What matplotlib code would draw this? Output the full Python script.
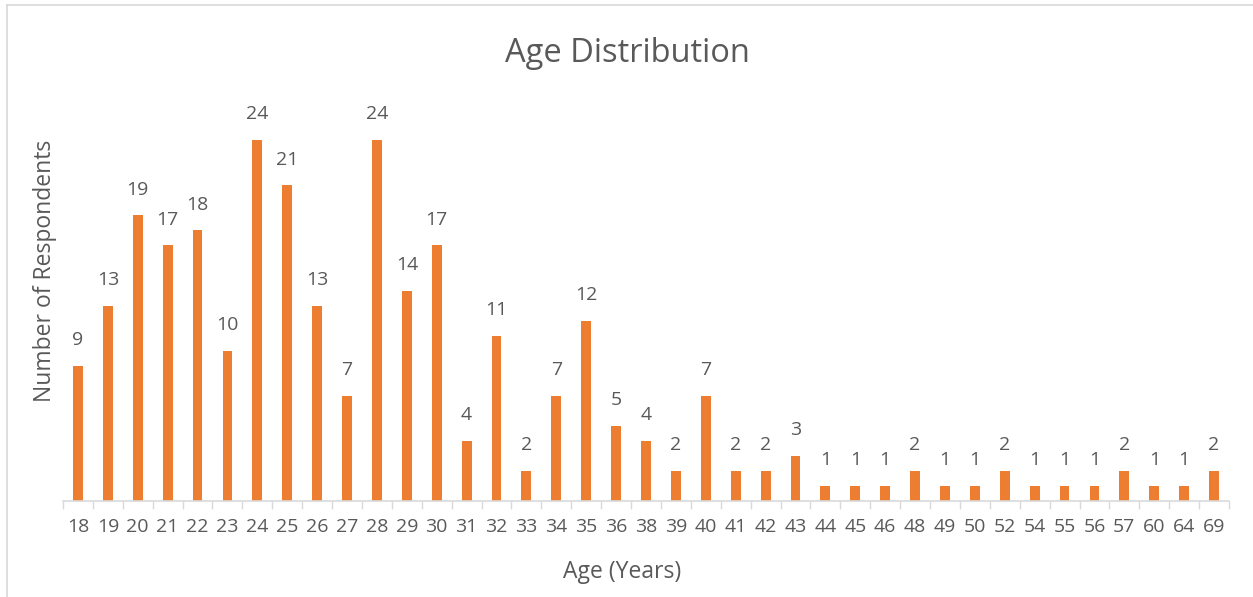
import matplotlib
matplotlib.use("Agg")
import matplotlib.pyplot as plt
import numpy as np
from matplotlib.lines import Line2D

ages = ["18","19","20","21","22","23","24","25","26","27","28","29","30","31","32","33","34","35","36","38","39","40","41","42","43","44","45","46","48","49","50","52","54","55","56","57","60","64","69"]
counts = [9,13,19,17,18,10,24,21,13,7,24,14,17,4,11,2,7,12,5,4,2,7,2,2,3,1,1,1,2,1,1,2,1,1,1,2,1,1,2]

plt.rcParams['font.family'] = ['Open Sans', 'DejaVu Sans']
txt = '#595959'
orange = '#ED7D31'
grey = '#D9D9D9'

fig = plt.figure(figsize=(12.53, 5.97), dpi=100)
W, H = 1253, 597
ax = fig.add_axes([63/W, (H-501)/H, (1229-63)/W, (501-80)/H])

x = np.arange(len(ages))
ax.bar(x, counts, width=0.33, color=orange)
for xi, c in zip(x, counts):
    ax.annotate(str(c), (xi, c), xytext=(0, 12), textcoords='offset points',
                ha='center', va='bottom', fontsize=14, color=txt)

ax.set_xlim(-0.5, len(ages) - 0.5)
ax.set_ylim(0, 28)
ax.set_xticks(x)
ax.set_xticklabels(ages, fontsize=14, color=txt)
ax.set_xticks(np.arange(-0.5, len(ages), 1), minor=True)
ax.tick_params(axis='x', which='major', length=0, pad=12)
ax.tick_params(axis='x', which='minor', length=6, width=1, color=grey)
ax.set_yticks([])
for s in ['top', 'right', 'left']:
    ax.spines[s].set_visible(False)
ax.spines['bottom'].set_color(grey)
ax.spines['bottom'].set_linewidth(1.2)

fig.text(627/W, 1 - 53/H, "Age Distribution", ha='center', va='center', fontsize=23.5, color=txt)
fig.text(622/W, 1 - 572/H, "Age (Years)", ha='center', va='center', fontsize=16.5, color=txt)
fig.text(45/W, 1 - 271/H, "Number of Respondents", ha='center', va='center', fontsize=16.5, color=txt, rotation=90)

# chart border (left and top visible)
fig.add_artist(Line2D([7/W, 7/W], [0, 1 - 5/H], color=grey, lw=1.2))
fig.add_artist(Line2D([7/W, 1], [1 - 5/H, 1 - 5/H], color=grey, lw=1.2))

fig.savefig("out.png", dpi=100)
